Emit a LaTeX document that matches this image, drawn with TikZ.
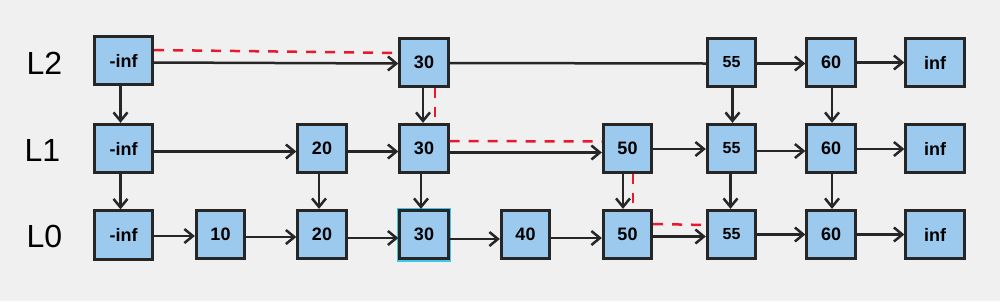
\documentclass[tikz,border=0pt]{standalone}
\usepackage{fontspec}
\setmainfont{Liberation Sans}
\usetikzlibrary{arrows.meta,calc}
\definecolor{bg}{HTML}{F0F0F0}
\definecolor{boxfill}{HTML}{9CCAEF}
\definecolor{edgec}{HTML}{262626}
\definecolor{reddash}{HTML}{E8192C}
\definecolor{selc}{HTML}{3CC6F0}
\begin{document}
\begin{tikzpicture}[x=1pt,y=-1pt,
 cell/.style={draw=edgec,fill=boxfill,line width=2.8pt,minimum width=48.5pt,minimum height=48.5pt,inner sep=0pt,font=\bfseries\fontsize{18}{18}\selectfont},
 widecell/.style={cell,minimum width=58.5pt},
 smalltxt/.style={font=\bfseries\fontsize{16}{16}\selectfont},
 lvl/.style={font=\fontsize{32}{32}\selectfont},
 arr/.style={draw=edgec,line width=2.5pt,-{Straight Barb[length=8.5pt,width=14pt,line width=2.5pt]}},
 plainline/.style={draw=edgec,line width=2.5pt},
 route/.style={draw=reddash,line width=2.5pt,dash pattern=on 10pt off 9pt}]
\fill[bg] (0,0) rectangle (1000,301);
% level labels
\node[lvl] (l2) at (44.5,63) {L2};
\node[lvl] (l1) at (42.5,150) {L1};
\node[lvl] (l0) at (44.5,236) {L0};
% selection outline (behind the box)
\node[draw=selc,line width=2pt,minimum width=52pt,minimum height=52pt,inner sep=0pt] (sel) at (424,234.5) {};
% L2
\node[widecell] (a2) at (123.5,60.5) {-inf};
\node[cell] (c2) at (424,62.5) {30};
\node[cell,smalltxt] (g2) at (731.5,62.5) {55};
\node[cell] (h2) at (831,62.5) {60};
\node[widecell] (i2) at (935,62.5) {inf};
% L1
\node[widecell] (a1) at (123.5,148.5) {-inf};
\node[cell] (b1) at (322,148.5) {20};
\node[cell] (c1) at (424,148.5) {30};
\node[cell] (f1) at (627.5,148.5) {50};
\node[cell,smalltxt] (g1) at (731.5,148.5) {55};
\node[cell] (h1) at (831,148.5) {60};
\node[widecell] (i1) at (935,148.5) {inf};
% L0
\node[widecell] (a0) at (123.5,235) {-inf};
\node[cell] (k0) at (220.5,234.5) {10};
\node[cell] (b0) at (322,234.5) {20};
\node[cell] (c0) at (424,234.5) {30};
\node[cell] (d0) at (525.5,234.5) {40};
\node[cell] (f0) at (627.5,234.5) {50};
\node[cell,smalltxt] (g0) at (731.5,234.5) {55};
\node[cell] (h0) at (831,234.5) {60};
\node[widecell] (i0) at (935,234.5) {inf};
% red search path
\draw[route] ($(a2.east)+(0,-10.5)$) -- ($(c2.west)+(0,-9.5)$);
\draw[route] ($(c2.south)+(11,0)$) -- ($(c1.north)+(11,0)$);
\draw[route] ($(c1.east)+(0,-7.5)$) -- ($(f1.west)+(0,-7)$);
\draw[route] ($(f1.south)+(5.5,0)$) -- ($(f0.north)+(5.5,0)$);
\draw[route] ($(f0.east)+(0,-10.5)$) -- ($(g0.west)+(0,-9.5)$);
% L2 horizontal
\draw[arr] ([yshift=-2pt]a2.east) -- ([yshift=-1pt]c2.west);
\draw[plainline] ([yshift=-0.5pt]c2.east) -- ([yshift=-1pt]g2.west);
\draw[arr] ([yshift=-1pt]g2.east) -- ([yshift=-1pt]h2.west);
\draw[arr] (h2.east) -- (i2.west);
% L1 horizontal
\draw[arr] ([yshift=-3pt]a1.east) -- ([yshift=-3pt]b1.west);
\draw[arr] ([yshift=-3pt]b1.east) -- ([yshift=-3pt]c1.west);
\draw[arr] ([yshift=-4pt]c1.east) -- ([yshift=-4pt]f1.west);
\draw[arr] ([yshift=-0.5pt]f1.east) -- ([yshift=-0.5pt]g1.west);
\draw[arr] ([yshift=-2.5pt]g1.east) -- ([yshift=-2.5pt]h1.west);
\draw[arr] ([yshift=-0.5pt]h1.east) -- ([yshift=-0.5pt]i1.west);
% L0 horizontal
\draw[arr] ([yshift=-1pt]a0.east) -- ([yshift=-1.5pt]k0.west);
\draw[arr] ([yshift=-2.5pt]k0.east) -- ([yshift=-2.5pt]b0.west);
\draw[arr] ([yshift=-3.5pt]b0.east) -- ([yshift=-3.5pt]c0.west);
\draw[arr] ([yshift=-4.5pt]c0.east) -- ([yshift=-4.5pt]d0.west);
\draw[arr] ([yshift=-3.5pt]d0.east) -- ([yshift=-3.5pt]f0.west);
\draw[arr] ([yshift=-2pt]f0.east) -- ([yshift=-2pt]g0.west);
\draw[arr] (g0.east) -- (h0.west);
\draw[arr] (h0.east) -- (i0.west);
% vertical
\draw[arr] ([xshift=-3pt]a2.south) -- ([xshift=-3pt]a1.north);
\draw[arr] ([xshift=-3pt]a1.south) -- ([xshift=-3pt]a0.north);
\draw[arr] ([xshift=-1pt]c2.south) -- ([xshift=-1pt]c1.north);
\draw[arr] ([xshift=-3pt]b1.south) -- ([xshift=-3pt]b0.north);
\draw[arr] ([xshift=-3pt]c1.south) -- ([xshift=-3pt]c0.north);
\draw[arr] ([xshift=-4.5pt]f1.south) -- ([xshift=-4.5pt]f0.north);
\draw[arr] ([xshift=1pt]g2.south) -- ([xshift=1pt]g1.north);
\draw[arr] ([xshift=-1pt]g1.south) -- ([xshift=-1pt]g0.north);
\draw[arr] ([xshift=1pt]h2.south) -- ([xshift=1pt]h1.north);
\draw[arr] ([xshift=1pt]h1.south) -- ([xshift=1pt]h0.north);
\useasboundingbox (0,0) rectangle (1000,301);
\end{tikzpicture}
\end{document}
